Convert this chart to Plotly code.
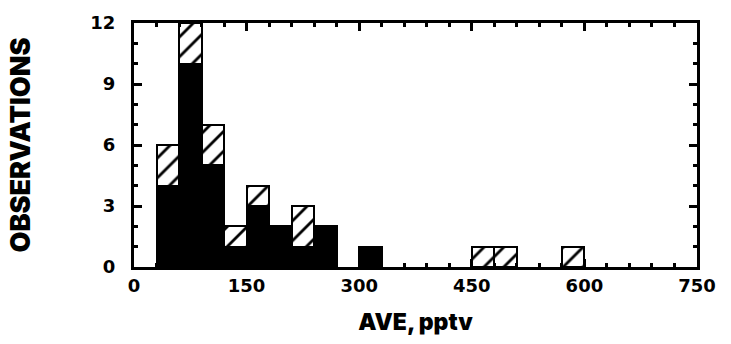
import plotly.graph_objects as go

# Bin lower edges (pptv), bin width 30
bin_lower = [30, 60, 90, 120, 150, 180, 210, 240, 270, 300, 450, 480, 570]
black_counts = [4, 10, 5, 1, 3, 2, 1, 2, 0, 1, 0, 0, 0]
hatched_counts = [2, 2, 2, 1, 1, 0, 2, 0, 0, 0, 1, 1, 1]
bin_width = 30

x_ticks = [0, 150, 300, 450, 600, 750]
y_ticks = [0, 3, 6, 9, 12]

centers = [b + bin_width / 2 for b in bin_lower]
blk = [v if v else None for v in black_counts]
hat = [v if v else None for v in hatched_counts]

fig = go.Figure()
fig.add_trace(go.Bar(
    x=centers, y=blk, width=bin_width,
    marker=dict(color="black", line=dict(color="black", width=2)),
    showlegend=False,
))
fig.add_trace(go.Bar(
    x=centers, y=hat, width=bin_width,
    marker=dict(color="white", line=dict(color="black", width=2.5),
                pattern=dict(shape="/", fgcolor="black", fgopacity=1, bgcolor="white",
                             size=14, solidity=0.2, fillmode="overlay")),
    showlegend=False,
))

tick_font = dict(family="DejaVu Sans", size=18, color="black", weight="bold")
xtitle_font = dict(family="Inter", size=23, color="black", weight=900)
ytitle_font = dict(family="Inter", size=27, color="black", weight=900)

fig.update_layout(
    width=731, height=344,
    margin=dict(l=134, r=34, t=20, b=70),
    paper_bgcolor="white", plot_bgcolor="white",
    barmode="stack", bargap=0,
    xaxis=dict(
        range=[0, 750], tickvals=x_ticks, ticktext=[str(v) for v in x_ticks],
        showgrid=False, zeroline=False,
        showline=True, linecolor="black", linewidth=3, mirror="ticks",
        ticks="inside", ticklen=8, tickwidth=3, tickcolor="black",
        minor=dict(dtick=30, ticks="inside", ticklen=4, tickwidth=3, tickcolor="black", showgrid=False),
        tickfont=tick_font,
        title=dict(text="AVE, pptv", font=xtitle_font, standoff=20),
    ),
    yaxis=dict(
        range=[0, 12], tickvals=y_ticks, ticktext=[str(v) for v in y_ticks],
        showgrid=False, zeroline=False,
        showline=True, linecolor="black", linewidth=3, mirror="ticks",
        ticks="inside", ticklen=8, tickwidth=3, tickcolor="black",
        minor=dict(dtick=1, ticks="inside", ticklen=4, tickwidth=3, tickcolor="black", showgrid=False),
        tickfont=tick_font, ticklabelstandoff=12,
        title=dict(text="OBSERVATIONS", font=ytitle_font, standoff=52),
    ),
)

fig.write_html("out.html")
